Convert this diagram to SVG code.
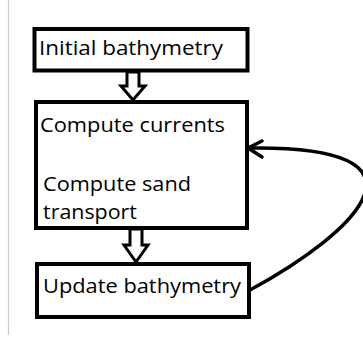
<svg xmlns="http://www.w3.org/2000/svg" width="363" height="337" viewBox="0 0 363 337">
  <style>
    .box { fill: #ffffff; stroke: #000000; stroke-width: 4; }
    .label { font-family: "Open Sans", "Liberation Sans", sans-serif; font-size: 20px; fill: #000000; }
    .block { fill: #ffffff; stroke: #000000; stroke-width: 3; stroke-linejoin: miter; }
    .loop { fill: none; stroke: #000000; stroke-width: 3.5; stroke-linecap: round; stroke-linejoin: round; }
  </style>
  <rect width="363" height="337" fill="#ffffff"/>
  <!-- page margin rule -->
  <line x1="8.5" y1="0" x2="8.5" y2="335" stroke="#cccccc" stroke-width="1.2"/>

  <g id="connectors">
    <polygon class="block" points="127,72 139,72 139,86 145,86 133,100 121,86 127,86"/>
    <polygon class="block" points="130,229 142,229 142,245 148,245 136,262 124,245 130,245"/>
    <path class="loop" d="M250,290 C360,230 445,145 248,148"/>
    <polyline class="loop" points="262,141 248,148 262,157"/>
  </g>

  <g id="initial-bathymetry">
    <rect class="box" x="34.5" y="29" width="213" height="41.5"/>
    <text class="label" x="39" y="55" textLength="184" lengthAdjust="spacingAndGlyphs">Initial bathymetry</text>
  </g>

  <g id="compute">
    <rect class="box" x="36" y="102" width="211" height="126"/>
    <text class="label" x="40" y="132" textLength="185" lengthAdjust="spacingAndGlyphs">Compute currents</text>
    <text class="label" x="43" y="190.5" textLength="148" lengthAdjust="spacingAndGlyphs">Compute sand</text>
    <text class="label" x="43" y="219" textLength="94" lengthAdjust="spacingAndGlyphs">transport</text>
  </g>

  <g id="update-bathymetry">
    <rect class="box" x="37" y="264" width="212" height="53"/>
    <text class="label" x="43" y="293" textLength="198" lengthAdjust="spacingAndGlyphs">Update bathymetry</text>
  </g>
</svg>
